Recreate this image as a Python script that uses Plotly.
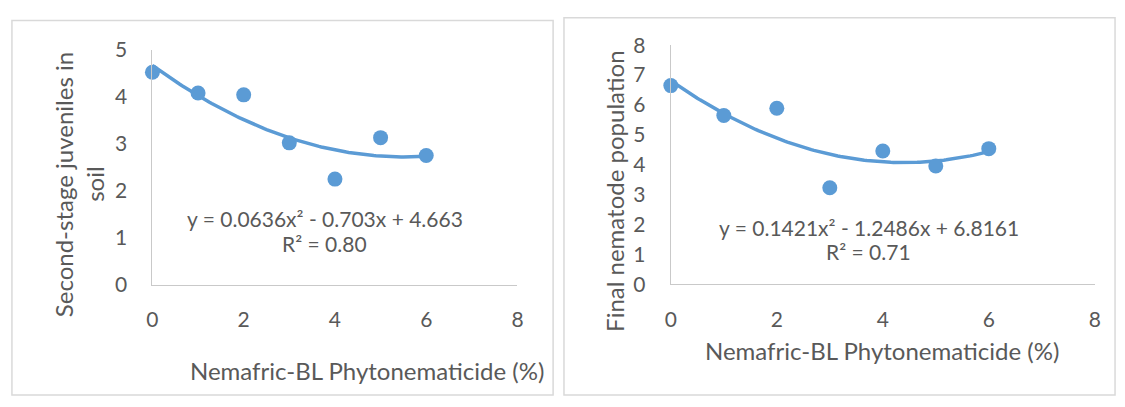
import numpy as np
import plotly.graph_objects as go

# ---- data ----
doses = [0, 1, 2, 3, 4, 5, 6]
j2_soil = [4.52, 4.08, 4.04, 3.02, 2.25, 3.13, 2.75]
final_pop = [6.65, 5.65, 5.89, 3.23, 4.46, 3.96, 4.54]
fit_left = [0.0636, -0.703, 4.663]      # quadratic trendline coefficients (shown on chart)
fit_right = [0.1421, -1.2486, 6.8161]
eq_left = ["y = 0.0636x² - 0.703x + 4.663", "R² = 0.80"]
eq_right = ["y = 0.1421x² - 1.2486x + 6.8161", "R² = 0.71"]
x_title = "Nemafric-BL Phytonematicide (%)"
y_title_left = ["Second-stage juveniles in", "soil"]
y_title_right = "Final nematode population"
x_ticks = [0, 2, 4, 6, 8]
y_ticks_left = [0, 1, 2, 3, 4, 5]
y_ticks_right = [0, 1, 2, 3, 4, 5, 6, 7, 8]

W, H = 1125, 407
BLUE = "#5B9BD5"
TXT = "#595959"
FONT = "Lato"

def px(x):
    return x / W

def py(y):
    return 1 - y / H

fig = go.Figure()

xt = np.linspace(min(doses), max(doses), 121)
for coeffs, ys, xa, ya in [(fit_left, j2_soil, "x", "y"), (fit_right, final_pop, "x2", "y2")]:
    fig.add_trace(go.Scatter(x=xt, y=np.polyval(coeffs, xt), mode="lines",
                             line=dict(color=BLUE, width=3.5), xaxis=xa, yaxis=ya,
                             cliponaxis=False, hoverinfo="skip", showlegend=False))
    fig.add_trace(go.Scatter(x=doses, y=ys, mode="markers",
                             marker=dict(color=BLUE, size=15), xaxis=xa, yaxis=ya,
                             cliponaxis=False, showlegend=False))

axis_common = dict(showgrid=False, zeroline=False, showline=True, linecolor="#C9C9C9",
                   linewidth=1.2, ticks="outside", tickcolor="rgba(0,0,0,0)",
                   tickfont=dict(family=FONT, size=21, color=TXT), fixedrange=True)

fig.update_layout(
    width=W, height=H, margin=dict(l=0, r=0, t=0, b=0),
    paper_bgcolor="white", plot_bgcolor="white", showlegend=False,
    xaxis=dict(domain=[px(148), px(517)], range=[0, 8], tickvals=x_ticks, ticklen=16,
               anchor="y", **axis_common),
    yaxis=dict(domain=[py(288.7), py(38)], range=[0, 5], tickvals=y_ticks_left, ticklen=20,
               anchor="x", **axis_common),
    xaxis2=dict(domain=[px(672), px(1100.5)], range=[0, 8], tickvals=x_ticks, ticklen=16,
                anchor="y2", **axis_common),
    yaxis2=dict(domain=[py(288), py(33.3)], range=[0, 8], tickvals=y_ticks_right, ticklen=20,
                anchor="x2", **axis_common),
)

# panel borders
for x0, x1, y0, y1 in [(6, 553, 406, 7), (564, 1121, 406, 4)]:
    fig.add_shape(type="rect", xref="paper", yref="paper",
                  x0=px(x0), x1=px(x1), y0=py(y0), y1=py(y1),
                  line=dict(color="#D9D9D9", width=1.5), fillcolor="rgba(0,0,0,0)")

def ann(text, x, y, size, angle=0):
    fig.add_annotation(text=text, xref="paper", yref="paper", x=px(x), y=py(y),
                       xanchor="center", yanchor="middle", showarrow=False,
                       textangle=angle, font=dict(family=FONT, size=size, color=TXT))

# axis titles
ann(x_title, 365, 380, 24)
ann(x_title, 885, 359, 24)
ann(y_title_left[0], 58, 182, 24, -90)
ann(y_title_left[1], 90, 182, 24, -90)
ann(y_title_right, 615, 188, 24, -90)

# equations
ann(eq_left[0], 322, 218, 21)
ann(eq_left[1], 322, 245, 21)
ann(eq_right[0], 872, 227, 21)
ann(eq_right[1], 872, 253, 21)

fig.write_html("out.html")
